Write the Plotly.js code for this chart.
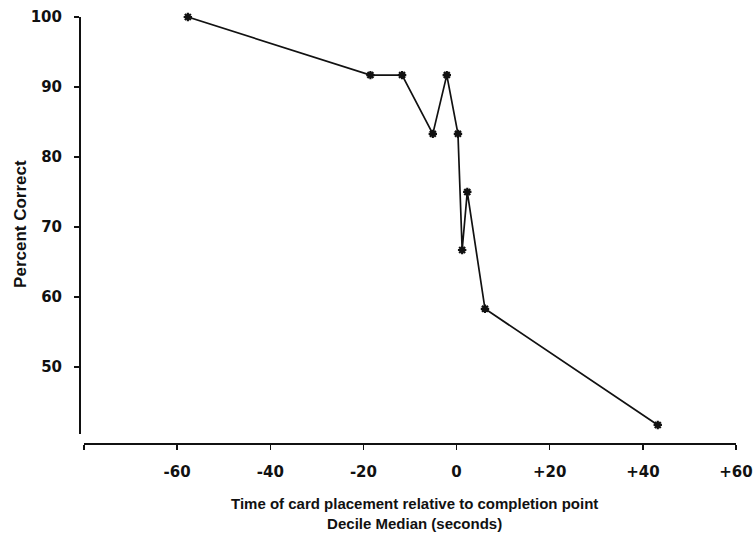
<!DOCTYPE html>
<html>
<head>
<meta charset="utf-8">
<script src="https://cdn.plot.ly/plotly-3.0.1.min.js"></script>
<style>html,body{margin:0;padding:0;background:#fff;}#chart{width:754px;height:534px;}</style>
</head>
<body>
<div id="chart"></div>
<script>
// Decile median time (s) relative to completion point
const decileMedian = [-57.7, -18.5, -11.7, -5.1, -2.1, 0.3, 1.2, 2.3, 6.1, 43.2];
// Percent correct
const percentCorrect = [100, 91.7, 91.7, 83.3, 91.7, 83.3, 66.7, 75.0, 58.3, 41.7];
const xTickVals = [-80, -60, -40, -20, 0, 20, 40, 60];
const xTickText = ['', '-60', '-40', '-20', '0', '+20', '+40', '+60'];
const yTickVals = [50, 60, 70, 80, 90, 100];
const xTitleLines = ['Time of card placement relative to completion point', 'Decile Median (seconds)'];
const yTitle = 'Percent Correct';

const tickFontFamily = 'DejaVu Sans, Liberation Sans, Arial, sans-serif';
const titleFamily = 'Liberation Sans, Arial, sans-serif';

const trace = {
  x: decileMedian, y: percentCorrect, type: 'scatter', mode: 'lines+markers',
  line: {color: '#111', width: 1.7},
  marker: {symbol: 'asterisk-open', size: 7, color: '#111', line: {color: '#111', width: 2.2}},
  cliponaxis: false, hoverinfo: 'none'
};

const layout = {
  width: 754, height: 534,
  margin: {l: 79, r: 18, t: 17, b: 91},
  paper_bgcolor: '#fff', plot_bgcolor: '#fff',
  showlegend: false,
  font: {family: tickFontFamily, color: '#111', size: 14},
  xaxis: {
    domain: [0.0076, 1], range: [-80, 60], anchor: 'free', position: 0,
    tickvals: xTickVals, ticktext: xTickText,
    showline: true, linecolor: '#111', linewidth: 1.5,
    ticks: 'outside', ticklen: 5, tickwidth: 1.3, tickcolor: '#111',
    showgrid: false, zeroline: false,
    ticklabelstandoff: 9,
    tickfont: {family: tickFontFamily, size: 15, color: '#111', weight: 'bold'}
  },
  yaxis: {
    domain: [0.021, 1], range: [40.4, 100], anchor: 'free', position: 0,
    tickvals: yTickVals,
    showline: true, linecolor: '#111', linewidth: 1.5,
    ticks: 'outside', ticklen: 5, tickwidth: 1.3, tickcolor: '#111',
    showgrid: false, zeroline: false,
    ticklabelstandoff: 9,
    tickfont: {family: tickFontFamily, size: 15, color: '#111', weight: 'bold'}
  },
  annotations: [
    {text: xTitleLines.join('<br>'), xref: 'paper', yref: 'paper', x: 0.511, y: -0.1655, xanchor: 'center', yanchor: 'middle', align: 'center', borderpad: 0, showarrow: false, font: {size: 15, color: '#111', family: titleFamily, weight: 'bold'}},
    {text: yTitle, xref: 'paper', yref: 'paper', x: -0.09, y: 0.514, xanchor: 'center', yanchor: 'middle', textangle: -90, showarrow: false, font: {size: 17, color: '#111', family: titleFamily, weight: 'bold'}}
  ]
};

Plotly.newPlot('chart', [trace], layout, {staticPlot: true, displayModeBar: false});
</script>
</body>
</html>
